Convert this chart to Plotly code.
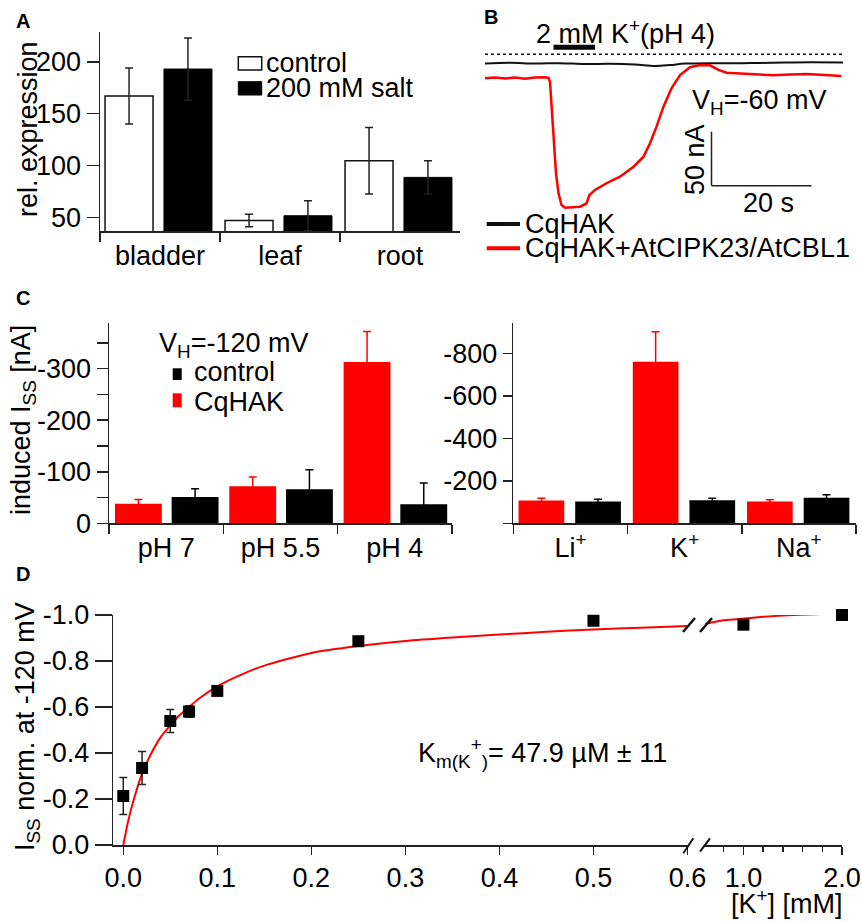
import plotly.graph_objects as go

W, H = 862, 922
FONT = "Liberation Sans, Arial, Helvetica, sans-serif"
FS = 27
AX = "#222222"

# ---------------- Panel A data ----------------
tissues = ["bladder", "leaf", "root"]
expr_control = [167, 47, 104.5]
expr_control_err = [27, 6, 32]
expr_salt = [193, 51.5, 88.5]
expr_salt_err = [30, 14.5, 16]
expr_ticks = [50, 100, 150, 200]

# ---------------- Panel B data (time s, current nA) ----------------
red_t = [0, 2, 4, 6, 8, 10, 12, 12.7, 13.0, 13.3, 13.7, 14.2, 14.7, 15.3, 16.0,
         19.0, 20.3, 20.9, 22.0, 24.3, 27.0, 29.7, 31.7, 33.0, 34.3, 35.7, 37.3,
         39.0, 41.0, 43.0, 45.0, 46.7, 48.3, 51.0, 54, 57.6, 61, 64.3, 68, 71.3]
red_i = [-22.2, -21.5, -22.4, -21.6, -22.6, -21.4, -21.2, -21.9, -25.4, -48.5,
         -79.4, -110.2, -128.7, -139.5, -142.0, -141.1, -138.0, -130.3, -125.6,
         -119.4, -113.3, -104.1, -94.8, -82.4, -67.0, -48.5, -31.5, -19.2, -12.0,
         -9.9, -10.2, -14.5, -17.0, -17.6, -18.6, -19.4, -18.8, -18.2, -19.2, -20.1]
black_t = [0, 5, 10, 15, 20, 25, 30, 34, 37, 40, 45, 50, 55, 60, 65, 71.6]
black_i = [-8.5, -7.8, -8.6, -8.2, -9.0, -8.8, -9.5, -10.8, -10.0, -8.6, -8.2,
           -8.4, -8.0, -7.6, -7.4, -7.6]
baseline_t = [0, 71.6]
baseline_i = [0, 0]
stim_t = [13.7, 22.0]
stim_level = 6.5
scale_t0, scale_dt = 45.3, 20
scale_i0, scale_di = -71.7, 50

# ---------------- Panel C data ----------------
ph_labels = ["pH 7", "pH 5.5", "pH 4"]
ph_cqhak = [-38, -72, -313]
ph_cqhak_err = [8, 18, 59]
ph_control = [-51, -66, -37]
ph_control_err = [16, 38, 41]
ph_tickvals = [0, -100, -200, -300]
ph_ticktext = ["0", "-100", "-200", "-300"]
ph_minor = [-50, -150, -250, -350]

ion_labels = ["Li+", "K+", "Na+"]
ion_labeltext = ["Li<sup>+</sup>", "K<sup>+</sup>", "Na<sup>+</sup>"]
ion_cqhak = [-107, -761, -103]
ion_cqhak_err = [11, 141, 8]
ion_control = [-103, -109, -120]
ion_control_err = [10, 9, 14]
ion_tickvals = [0, -200, -400, -600, -800]
ion_ticktext = ["", "-200", "-400", "-600", "-800"]

# ---------------- Panel D data ----------------
k_conc = [0.0, 0.02, 0.05, 0.07, 0.1, 0.25, 0.5, 1.0, 2.0]
i_norm = [-0.213, -0.335, -0.539, -0.58, -0.67, -0.886, -0.975, -0.958, -1.0]
i_err = [0.08, 0.072, 0.05, 0.025, 0.012, 0.018, 0, 0, 0]
fit_conc = [0, 0.005, 0.01, 0.02, 0.03, 0.04, 0.05, 0.06, 0.07, 0.08, 0.1, 0.125,
            0.15, 0.2, 0.25, 0.3, 0.35, 0.4, 0.45, 0.5, 0.55, 0.6,
            0.61, 0.7, 0.8, 0.93, 1.2, 1.5, 2.0]
fit_i = [0, -0.10, -0.18, -0.31, -0.40, -0.47, -0.52, -0.565, -0.60, -0.635, -0.69,
         -0.74, -0.78, -0.835, -0.865, -0.887, -0.902, -0.915, -0.927, -0.937,
         -0.945, -0.952, -0.962, -0.97, -0.977, -0.982, -0.992, -1.0, -1.007]
d_break = 0.6
d_left_ticks = [0, 0.1, 0.2, 0.3, 0.4, 0.5, 0.6]
d_right_ticks = [1.0, 2.0]
d_right_minor = [0.8, 1.2, 1.4, 1.6, 1.8]
d_yticks = [0, -0.2, -0.4, -0.6, -0.8, -1.0]


def fx(p):
    return p / W


def fy(p):
    return 1 - p / H


fig = go.Figure()

# ---- Panel A ----
fig.add_trace(go.Bar(x=tissues, y=expr_control, width=0.4, offset=-0.458,
                     marker=dict(color="white", line=dict(color="#111", width=1.5)),
                     error_y=dict(type="data", array=expr_control_err, color="#222",
                                  thickness=1.5, width=4),
                     xaxis="x", yaxis="y"))
fig.add_trace(go.Bar(x=tissues, y=expr_salt, width=0.4, offset=0.033,
                     marker=dict(color="black", line=dict(color="black", width=1)),
                     error_y=dict(type="data", array=expr_salt_err, color="#222",
                                  thickness=1.5, width=4),
                     xaxis="x", yaxis="y"))

# ---- Panel B ----
fig.add_trace(go.Scatter(x=baseline_t, y=baseline_i, mode="lines",
                         line=dict(color="#111", width=1.5, dash="dot"),
                         xaxis="x2", yaxis="y2"))
fig.add_trace(go.Scatter(x=black_t, y=black_i, mode="lines",
                         line=dict(color="#111", width=2, shape="spline"),
                         xaxis="x2", yaxis="y2"))
fig.add_trace(go.Scatter(x=red_t, y=red_i, mode="lines",
                         line=dict(color="#ff0000", width=2.5),
                         xaxis="x2", yaxis="y2"))

# ---- Panel C left ----
fig.add_trace(go.Bar(x=ph_labels, y=ph_cqhak, width=0.41, offset=-0.448,
                     marker=dict(color="#ff0000", line=dict(width=0)),
                     error_y=dict(type="data", array=ph_cqhak_err, color="#ff0000",
                                  thickness=1.5, width=4),
                     xaxis="x3", yaxis="y3"))
fig.add_trace(go.Bar(x=ph_labels, y=ph_control, width=0.41, offset=0.048,
                     marker=dict(color="black", line=dict(width=0)),
                     error_y=dict(type="data", array=ph_control_err, color="black",
                                  thickness=1.5, width=4),
                     xaxis="x3", yaxis="y3"))

# ---- Panel C right ----
fig.add_trace(go.Bar(x=ion_labels, y=ion_cqhak, width=0.40, offset=-0.454,
                     marker=dict(color="#ff0000", line=dict(width=0)),
                     error_y=dict(type="data", array=ion_cqhak_err, color="#ff0000",
                                  thickness=1.5, width=4),
                     xaxis="x4", yaxis="y4"))
fig.add_trace(go.Bar(x=ion_labels, y=ion_control, width=0.40, offset=0.042,
                     marker=dict(color="black", line=dict(width=0)),
                     error_y=dict(type="data", array=ion_control_err, color="black",
                                  thickness=1.5, width=4),
                     xaxis="x4", yaxis="y4"))

# ---- Panel D ----
fl_x = [c for c in fit_conc if c <= d_break]
fl_y = [v for c, v in zip(fit_conc, fit_i) if c <= d_break]
fr_x = [c for c in fit_conc if c > d_break]
fr_y = [v for c, v in zip(fit_conc, fit_i) if c > d_break]
fig.add_trace(go.Scatter(x=fl_x, y=fl_y, mode="lines",
                         line=dict(color="#ff0000", width=2, shape="spline", smoothing=0.6),
                         xaxis="x5", yaxis="y5", cliponaxis=False))
fig.add_trace(go.Scatter(x=fr_x, y=fr_y, mode="lines",
                         line=dict(color="#ff0000", width=2, shape="spline", smoothing=0.6),
                         xaxis="x6", yaxis="y5", cliponaxis=False))

dl = [i for i, c in enumerate(k_conc) if c <= d_break]
dr = [i for i, c in enumerate(k_conc) if c > d_break]
fig.add_trace(go.Scatter(x=[k_conc[i] for i in dl], y=[i_norm[i] for i in dl],
                         mode="markers",
                         marker=dict(symbol="square", size=12, color="black"),
                         error_y=dict(type="data", array=[i_err[i] for i in dl],
                                      color="#222", thickness=1.5, width=4),
                         xaxis="x5", yaxis="y5", cliponaxis=False))
fig.add_trace(go.Scatter(x=[k_conc[i] for i in dr], y=[i_norm[i] for i in dr],
                         mode="markers",
                         marker=dict(symbol="square", size=12, color="black"),
                         error_y=dict(type="data", array=[i_err[i] for i in dr],
                                      color="#222", thickness=1.5, width=4),
                         xaxis="x6", yaxis="y5", cliponaxis=False))

tickfont = dict(family=FONT, size=FS, color="black")
base_axis = dict(showline=True, linecolor=AX, linewidth=1.5, ticks="outside",
                 tickcolor=AX, tickwidth=1.5, showgrid=False, zeroline=False,
                 tickfont=tickfont, fixedrange=True, automargin=False)

layout_axes = dict(
    xaxis=dict(base_axis, domain=[fx(100), fx(460)], anchor="y", type="category",
               range=[-0.5, 2.5], tickson="boundaries", ticklen=9),
    yaxis=dict(base_axis, domain=[fy(231), fy(31.7)], anchor="x",
               range=[36.8, 229], tickvals=expr_ticks, ticklen=12),
    xaxis2=dict(domain=[fx(485), fx(843)], anchor="y2", range=[0, 71.6],
                visible=False, fixedrange=True, automargin=False),
    yaxis2=dict(domain=[fy(215), fy(40)], anchor="x2", range=[-148.8, 13.24],
                visible=False, fixedrange=True, automargin=False),
    xaxis3=dict(base_axis, domain=[fx(109), fx(452)], anchor="y3", type="category",
                range=[-0.5, 2.5], tickson="boundaries", ticklen=9),
    yaxis3=dict(base_axis, domain=[fy(523.3), fy(323.3)], anchor="x3",
                range=[0, -388], tickvals=ph_tickvals, ticktext=ph_ticktext,
                ticklen=11,
                minor=dict(ticks="outside", tickmode="array", tickvals=ph_minor,
                           ticklen=11, tickwidth=1.5, tickcolor=AX)),
    xaxis4=dict(base_axis, domain=[fx(513.3), fx(856)], anchor="y4", type="category",
                range=[-0.5, 2.5], tickson="boundaries", ticklen=9,
                tickmode="array", tickvals=ion_labels, ticktext=ion_labeltext),
    yaxis4=dict(base_axis, domain=[fy(523.3), fy(323.3)], anchor="x4",
                range=[0, -942], tickvals=ion_tickvals, ticktext=ion_ticktext,
                ticklen=9),
    xaxis5=dict(base_axis, domain=[fx(113.3), fx(687.5)], anchor="y5",
                range=[-0.0106, 0.6], tickvals=d_left_ticks,
                ticktext=[f"{v:.1f}" for v in d_left_ticks], ticklen=8),
    yaxis5=dict(base_axis, domain=[fy(845), fy(615)], anchor="x5",
                range=[0, -1.0], tickvals=d_yticks,
                ticktext=[("-" if v < 0 else "") + f"{abs(v):.1f}" for v in d_yticks],
                ticklen=17),
    xaxis6=dict(base_axis, domain=[fx(705), fx(842)], anchor="y5",
                range=[0.61, 2.0], tickvals=d_right_ticks,
                ticktext=[f"{v:.1f}" for v in d_right_ticks], ticklen=8,
                minor=dict(ticks="outside", tickmode="array", tickvals=d_right_minor,
                           ticklen=5, tickwidth=1.5, tickcolor=AX)),
)


def ann(text, x, y, xa="left", ya="middle", size=FS, angle=0):
    return dict(text=text, x=fx(x), y=fy(y), xref="paper", yref="paper",
                xanchor=xa, yanchor=ya, showarrow=False, textangle=angle,
                font=dict(family=FONT, size=size, color="black"))


annotations = [
    ann("<b>A</b>", 14, 20.5, size=20),
    ann("rel. expression", 28, 129, xa="center", angle=-90),
    ann("control", 264, 63),
    ann("200 mM salt", 264, 88),
    ann("<b>B</b>", 482, 17.5, size=20),
    ann("2 mM K<sup>+</sup>(pH 4)", 534, 32),
    ann("V<sub>H</sub>=-60 mV", 690, 102),
    ann("50 nA", 695, 160, xa="center", angle=-90),
    ann("20 s", 768, 203, xa="center"),
    ann("CqHAK", 523, 224),
    ann("CqHAK+AtCIPK23/AtCBL1", 523, 248),
    ann("<b>C</b>", 14, 298, size=20),
    ann("induced I<sub>SS</sub> [nA]", 23, 420, xa="center", angle=-90),
    ann("V<sub>H</sub>=-120 mV", 157, 345),
    ann("control", 192, 372),
    ann("CqHAK", 192, 402),
    ann("<b>D</b>", 14, 574, size=20),
    ann("I<sub>SS</sub> norm. at -120 mV", 27, 727, xa="center", angle=-90),
    ann("K<sub>m(K</sub><sup>+</sup><sub>)</sub>= 47.9 µM ± 11", 416, 753),
    ann("[K<sup>+</sup>] [mM]", 845, 921, xa="right", ya="bottom"),
]


def pline(x0, y0, x1, y1, color="black", width=2):
    return dict(type="line", xref="paper", yref="paper", x0=fx(x0), y0=fy(y0),
                x1=fx(x1), y1=fy(y1), line=dict(color=color, width=width))


def prect(x0, y0, x1, y1, fill, line_color, lw):
    return dict(type="rect", xref="paper", yref="paper", x0=fx(x0), y0=fy(y0),
                x1=fx(x1), y1=fy(y1), fillcolor=fill,
                line=dict(color=line_color, width=lw))


shapes = [
    prect(238.3, 56.7, 261.7, 70, "white", "#111", 1.5),
    prect(238.3, 81.7, 261.7, 95, "black", "black", 1),
    pline(486.7, 224, 520, 224, "#111", 4),
    pline(486.7, 248.3, 520, 248.3, "#ff0000", 4),
    dict(type="line", xref="x2", yref="y2", x0=stim_t[0], x1=stim_t[1],
         y0=stim_level, y1=stim_level, line=dict(color="black", width=5)),
    dict(type="line", xref="x2", yref="y2", x0=scale_t0, x1=scale_t0,
         y0=scale_i0, y1=scale_i0 - scale_di, line=dict(color="#222", width=1.5)),
    dict(type="line", xref="x2", yref="y2", x0=scale_t0, x1=scale_t0 + scale_dt,
         y0=scale_i0 - scale_di, y1=scale_i0 - scale_di,
         line=dict(color="#222", width=1.5)),
    prect(172.7, 368.3, 181.7, 380, "black", "black", 0),
    prect(172.7, 393.3, 181.7, 407.3, "#ff0000", "#ff0000", 0),
    pline(683.3, 853.3, 693.3, 838.3, "#111", 2),
    pline(700, 851.7, 710, 838.3, "#111", 2),
    pline(683, 632, 695, 618, "#111", 2.5),
    pline(700, 632, 712, 618, "#111", 2.5),
]

fig.update_layout(
    template="none",
    width=W, height=H, margin=dict(l=0, r=0, t=0, b=0, pad=0),
    paper_bgcolor="white", plot_bgcolor="rgba(0,0,0,0)",
    showlegend=False, barmode="overlay",
    font=dict(family=FONT, size=FS, color="black"),
    annotations=annotations, shapes=shapes,
    **layout_axes,
)

fig.write_html(
    "out.html",
    config={"displayModeBar": False, "staticPlot": True},
    post_script="document.body.style.margin='0';document.body.style.padding='0';"
                "document.documentElement.style.overflow='hidden';",
)
